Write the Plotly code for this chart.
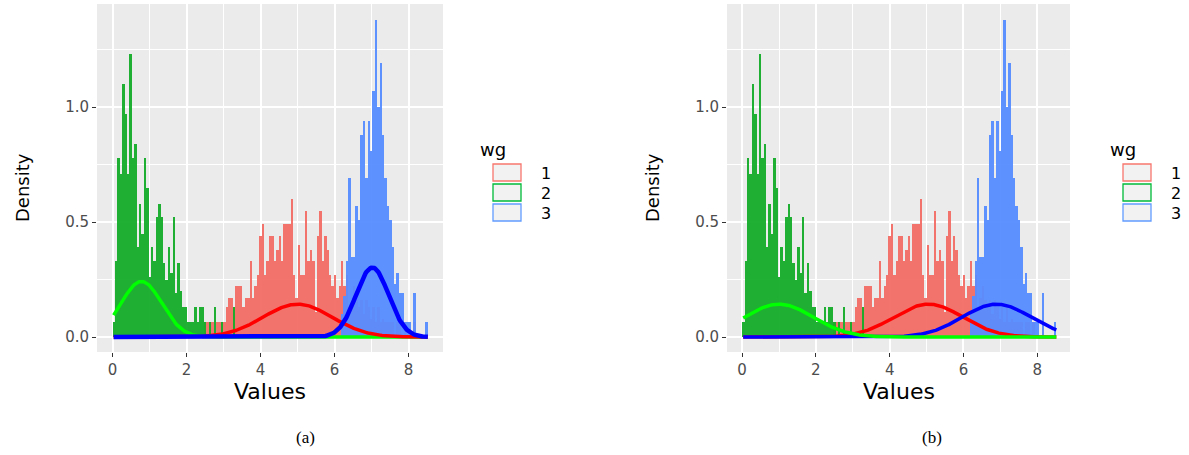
import numpy as np
import plotly.graph_objects as go

# ---------------- data ----------------
bin_width = 0.065
bin_start = 0.0

# histogram densities per bin, each group starting at a bin index
green_first_bin = 0
green_density = [0.065, 0.33, 0.78, 0.71, 1.10, 0.97, 0.71, 1.23, 0.78, 0.84,
                 0.39, 0.58, 0.45, 0.78, 0.65, 0.26, 0.39, 0.33, 0.52, 0.58,
                 0.52, 0.32, 0.25, 0.39, 0.28, 0.52, 0.19, 0.32, 0.20, 0.13,
                 0.13, 0.065, 0.065, 0.065, 0.13, 0.065, 0.13, 0.13, 0.065, 0,
                 0.065, 0, 0.13, 0, 0, 0.065, 0, 0, 0, 0, 0.13]

red_first_bin = 38
red_density = [0.065, 0.065, 0.065, 0.065, 0, 0.065, 0.065, 0.065, 0.065,
               0.13, 0.17, 0.17, 0.13, 0.22, 0.22, 0.22, 0.13, 0.17, 0.17,
               0.33, 0.17, 0.22, 0.27, 0.44, 0.49, 0.27, 0.33, 0.44, 0.44,
               0.33, 0.38, 0.44, 0.33, 0.49, 0.49, 0.49, 0.60, 0.27, 0.17,
               0.40, 0.27, 0.27, 0.55, 0.33, 0.38, 0.33, 0.11, 0.44, 0.55,
               0.33, 0.44, 0.38, 0.27, 0.22, 0.27, 0.17, 0.22, 0.33, 0.22,
               0.27, 0.13, 0.17, 0.22, 0.16, 0.13, 0.16, 0.10, 0.16, 0.13,
               0.08, 0.13, 0.065, 0.13, 0.065, 0.08, 0.065, 0.065, 0.065, 0.065,
               0, 0.065, 0.065, 0, 0.065, 0, 0, 0, 0.065]

blue_first_bin = 95
blue_density = [0.10, 0.18, 0.33, 0.69, 0.35, 0.35, 0.57, 0.51, 0.88, 0.94,
                0.69, 0.94, 0.81, 1.07, 1.38, 1.00, 1.19, 0.88, 0.69, 0.57,
                0.51, 0.39, 0.23, 0.28, 0.19, 0.19, 0.065, 0.065, 0.065, 0,
                0.19, 0, 0, 0, 0, 0.065]

groups = ["1", "2", "3"]

# fitted mixture components (mean, sd, weight) for each panel
panel_a_means = [5.0, 0.78, 7.02]
panel_a_sds = [0.93, 0.55, 0.44]
panel_a_weights = [1/3, 1/3, 1/3]

panel_b_means = [5.05, 1.0, 6.9]
panel_b_sds = [0.93, 0.93, 0.93]
panel_b_weights = [1/3, 1/3, 1/3]

curve_range = [0.03, 8.52]

x_ticks = [0, 2, 4, 6, 8]
y_ticks = [0.0, 0.5, 1.0]
y_tick_labels = ["0.0", "0.5", "1.0"]

# ---------------- styling ----------------
hist_fill = {"1": "rgba(242,104,96,0.92)", "2": "rgba(20,172,40,0.95)", "3": "rgba(85,140,255,0.95)"}
legend_line = {"1": "#F8766D", "2": "#00BA38", "3": "#619CFF"}
curve_col = {"1": "#FF0000", "2": "#00FF00", "3": "#0000FF"}

fig = go.Figure()


def add_hist(xa, ya):
    for g, first, dens in [("1", red_first_bin, red_density),
                           ("2", green_first_bin, green_density),
                           ("3", blue_first_bin, blue_density)]:
        dens = np.array(dens, dtype=float)
        k = np.arange(first, first + len(dens))
        centers = bin_start + (k + 0.5) * bin_width
        fig.add_trace(go.Bar(x=centers, y=dens, width=bin_width,
                             marker=dict(color=hist_fill[g], line=dict(width=0)),
                             xaxis=xa, yaxis=ya, showlegend=False, hoverinfo="skip"))


def dnorm(x, m, s):
    return np.exp(-0.5 * ((x - m) / s) ** 2) / (s * np.sqrt(2 * np.pi))


def add_curves(xa, ya, means, sds, weights, order, widths):
    xs = np.linspace(curve_range[0], curve_range[1], 400)
    for idx in order:
        g = groups[idx]
        ys = weights[idx] * dnorm(xs, means[idx], sds[idx])
        fig.add_trace(go.Scatter(x=xs, y=ys, mode="lines",
                                 line=dict(color=curve_col[g], width=widths[idx]),
                                 xaxis=xa, yaxis=ya, showlegend=False, hoverinfo="skip"))


add_hist("x", "y")
add_curves("x", "y", panel_a_means, panel_a_sds, panel_a_weights, [1, 0, 2], [3.5, 3.5, 4.5])
add_hist("x2", "y2")
add_curves("x2", "y2", panel_b_means, panel_b_sds, panel_b_weights, [0, 2, 1], [3.5, 3.5, 3.5])

W, H = 1189, 455
pa = (97, 443)
pb = (727, 1070)
ptop, pbot = 4, 352

axis_common = dict(showgrid=True, gridcolor="white", gridwidth=1.8, zeroline=False,
                   ticks="outside", ticklen=4, tickwidth=1, tickcolor="#333333",
                   tickfont=dict(family="DejaVu Sans", size=15, color="#4D4D4D"),
                   showline=False, fixedrange=True)

xr_a = [-0.42, 8.93]
xr_b = [-0.41, 8.89]
yr = [-0.065, 1.448]

fig.update_layout(
    width=W, height=H, margin=dict(l=0, r=0, t=0, b=0),
    paper_bgcolor="white", plot_bgcolor="#EBEBEB",
    barmode="overlay", bargap=0, showlegend=False,
    xaxis=dict(domain=[pa[0]/W, pa[1]/W], range=xr_a, tickvals=x_ticks, anchor="y",
               minor=dict(dtick=1, tick0=0, gridcolor="white", gridwidth=0.8, showgrid=True, ticks=""),
               **axis_common),
    yaxis=dict(domain=[1-pbot/H, 1-ptop/H], range=yr, tickvals=y_ticks, ticktext=y_tick_labels, anchor="x",
               minor=dict(dtick=0.25, tick0=0.25, gridcolor="white", gridwidth=0.8, showgrid=True, ticks=""),
               **axis_common),
    xaxis2=dict(domain=[pb[0]/W, pb[1]/W], range=xr_b, tickvals=x_ticks, anchor="y2",
                minor=dict(dtick=1, tick0=0, gridcolor="white", gridwidth=0.8, showgrid=True, ticks=""),
                **axis_common),
    yaxis2=dict(domain=[1-pbot/H, 1-ptop/H], range=yr, tickvals=y_ticks, ticktext=y_tick_labels, anchor="x2",
                minor=dict(dtick=0.25, tick0=0.25, gridcolor="white", gridwidth=0.8, showgrid=True, ticks=""),
                **axis_common),
)

ann = []
shapes = []
for (x0, x1), cap, dx in [(pa, "(a)", 0), (pb, "(b)", 630)]:
    cx = (x0 + x1) / 2
    ann.append(dict(x=cx/W, y=1-391/H, xref="paper", yref="paper", text="Values", showarrow=False,
                    font=dict(family="DejaVu Sans", size=22, color="black"), xanchor="center", yanchor="middle"))
    ann.append(dict(x=(22+dx)/W, y=1-188/H, xref="paper", yref="paper", text="Density", showarrow=False,
                    textangle=-90, font=dict(family="DejaVu Sans", size=18, color="black"),
                    xanchor="center", yanchor="middle"))
    ann.append(dict(x=(305 + (627 if dx else 0))/W, y=1-437/H, xref="paper", yref="paper", text=cap,
                    showarrow=False, font=dict(family="Liberation Serif", size=17, color="black"),
                    xanchor="center", yanchor="middle"))
    # legend
    ann.append(dict(x=(478+dx)/W, y=1-150/H, xref="paper", yref="paper", text="wg", showarrow=False,
                    font=dict(family="DejaVu Sans", size=18, color="black"), xanchor="left", yanchor="middle"))
    for i, g in enumerate(groups):
        y0 = 163 + 20*i
        shapes.append(dict(type="rect", xref="paper", yref="paper",
                           x0=(493+dx)/W, x1=(521+dx)/W, y0=1-(y0+1)/H, y1=1-(y0+18)/H,
                           line=dict(color=legend_line[g], width=1.3), fillcolor="#F2F2F2"))
        ann.append(dict(x=(539+dx)/W, y=1-(y0+10)/H, xref="paper", yref="paper", text=g, showarrow=False,
                        font=dict(family="DejaVu Sans", size=16, color="black"), xanchor="left", yanchor="middle"))

fig.update_layout(annotations=ann, shapes=shapes)
fig.write_html("out.html", config={"displayModeBar": False},
               post_script="document.body.style.margin='0px';document.body.style.overflow='hidden';")
